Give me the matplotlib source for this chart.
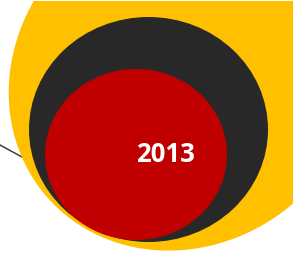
import matplotlib
matplotlib.use("Agg")
import matplotlib.pyplot as plt
from matplotlib.patches import Ellipse

# nested bubbles, outer -> inner (canvas pixel units)
bubble_labels = ["", "", "2013"]
bubble_cx = [185.3, 148.5, 136.0]
bubble_cy = [76.0, 129.5, 154.5]
bubble_w = [334.0, 239.0, 182.0]
bubble_h = [367.6, 225.0, 171.0]
bubble_angle = [48.4, 0.0, 0.0]
bubble_colors = ["#FFC000", "#282828", "#C00000"]

# leader line coming in from the left
leader_x = [0, 22]
leader_y = [145, 157]

W, H = 295, 254
fig = plt.figure(figsize=(W / 100, H / 100), dpi=100)
# plot area stops a few pixels short of the right/top edge, bubbles get clipped there
ax = fig.add_axes([0, 0, 293 / W, 253 / H])
ax.set_xlim(0, 293)
ax.set_ylim(254, 1)
ax.axis("off")

for cx, cy, w, h, ang, col in zip(bubble_cx, bubble_cy, bubble_w, bubble_h,
                                  bubble_angle, bubble_colors):
    ax.add_patch(Ellipse((cx, cy), w, h, angle=ang, facecolor=col,
                         edgecolor="none"))

ax.plot(leader_x, leader_y, color="#404040", lw=1.1, zorder=0.5)

# year label sits right of the inner bubble's centre
ax.text(165.5, 155, bubble_labels[2], color="white", fontsize=18.5,
        fontweight="bold", family="Open Sans", ha="center", va="center")

fig.savefig("out.png", dpi=100)
